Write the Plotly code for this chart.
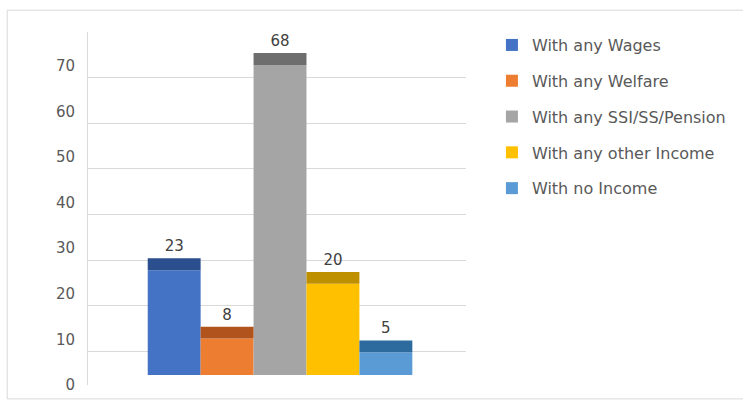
import plotly.graph_objects as go

series = ["With any Wages", "With any Welfare", "With any SSI/SS/Pension",
          "With any other Income", "With no Income"]
values = [23, 8, 68, 20, 5]
colors = ["#4472C4", "#ED7D31", "#A5A5A5", "#FFC000", "#5B9BD5"]
cap_colors = ["#2B4F8E", "#B0531C", "#6E6E6E", "#BE9000", "#2D6A9E"]
tick_vals = [0, 10, 20, 30, 40, 50, 60, 70]
category = ["Households"]

W, H = 743, 406
L, R, T, B = 88, 467, 32, 388
CAP = 2.6  # depth of the 3D top face, in value units
FONT = "DejaVu Sans"

fig = go.Figure()
for i, (name, v, c, cc) in enumerate(zip(series, values, colors, cap_colors)):
    fig.add_trace(go.Bar(
        x=category, y=[v], name=name, marker=dict(color=c, line=dict(width=0)),
        offsetgroup=str(i), legendgroup=name, yaxis="y", hoverinfo="name+y"))
for i, (name, v, c, cc) in enumerate(zip(series, values, colors, cap_colors)):
    fig.add_trace(go.Bar(
        x=category, y=[CAP], base=[v], name=name, marker=dict(color=cc, line=dict(width=0)),
        offsetgroup=str(i), legendgroup=name, showlegend=False, yaxis="y",
        text=[str(v)], textposition="outside", cliponaxis=False,
        textfont=dict(color="#404040", size=15, family=FONT), hoverinfo="skip"))

# invisible traces to activate the extra axes
fig.add_trace(go.Scatter(x=category, y=[None], yaxis="y2", showlegend=False, hoverinfo="skip"))
fig.add_trace(go.Scatter(x=category, y=[None], yaxis="y3", showlegend=False, hoverinfo="skip"))

px = 4.6  # pixels per unit
ph = B - T
fig.update_layout(
    width=W, height=H,
    margin=dict(l=L, r=W - R, t=T, b=H - B),
    paper_bgcolor="white", plot_bgcolor="white",
    barmode="group", bargap=0.30, bargroupgap=0,
    font=dict(family=FONT, color="#595959", size=14),
    xaxis=dict(range=[-0.508, 0.492], showticklabels=False, showgrid=False,
               zeroline=False, showline=False, fixedrange=True),
    # bars axis: 0 at pixel 378
    yaxis=dict(range=[-(B - 378) / px, (378 - T) / px], showgrid=False, zeroline=False,
               showticklabels=False, showline=False),
    # back-wall gridlines: 0 at pixel 400
    yaxis2=dict(overlaying="y", range=[(400 - B) / px, (400 - T) / px], dtick=10, tick0=0,
                showgrid=True, gridcolor="#D9D9D9", gridwidth=1, zeroline=False,
                showticklabels=False, showline=True, linecolor="#D9D9D9", side="left"),
    # tick labels: 0 at pixel 388
    yaxis3=dict(overlaying="y", range=[-0.01, (388 - T) / px], tickvals=tick_vals,
                showgrid=False, zeroline=False, showline=False, side="left",
                ticks="outside", ticklen=9, tickcolor="rgba(0,0,0,0)",
                tickfont=dict(size=15, color="#595959", family=FONT)),
    legend=dict(x=(493 - L) / (R - L), xanchor="left", y=1 + (T - 28) / ph, yanchor="top",
                font=dict(size=16, color="#595959", family=FONT),
                traceorder="grouped", tracegroupgap=12, itemwidth=30,
                bgcolor="rgba(0,0,0,0)"),
    shapes=[dict(type="rect", xref="paper", yref="paper",
                 x0=(7 - L) / (R - L), x1=(760 - L) / (R - L),
                 y0=-(402 - B) / ph, y1=1 + (T - 10) / ph,
                 line=dict(color="#D9D9D9", width=1), fillcolor="rgba(0,0,0,0)",
                 layer="below")],
)

fig.write_html("out.html")
